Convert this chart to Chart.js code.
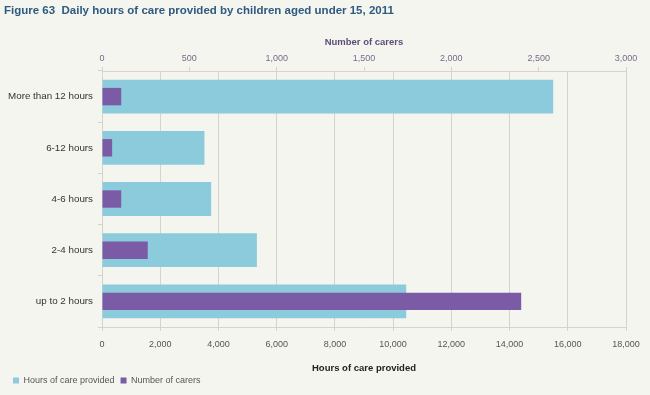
<!DOCTYPE html>
<html>
<head>
<meta charset="utf-8">
<script src="https://cdn.jsdelivr.net/npm/chart.js@4"></script>
<style>
  html, body { margin: 0; padding: 0; background: #f5f5f0; }
  #wrap { position: relative; width: 650px; height: 395px; }
  #titulo {
    position: absolute; left: 4px; top: 4px;
    font: bold 11.5px "Liberation Sans", Arial, sans-serif;
    color: #2d5a80;
  }
  canvas { position: absolute; left: 0; top: 0; }
</style>
</head>
<body>
<div id="wrap">
  <canvas id="grafica" width="650" height="395"></canvas>
  <div id="titulo">Figure 63&nbsp; Daily hours of care provided by children aged under 15, 2011</div>
</div>
<script>
// --- Datos ---
const categorias = ['More than 12 hours', '6-12 hours', '4-6 hours', '2-4 hours', 'up to 2 hours'];
const horasCuidado = [15500, 3520, 3750, 5320, 10450];
const numCuidadores = [110, 58, 110, 262, 2400];
const ticksHoras = [0, 2000, 4000, 6000, 8000, 10000, 12000, 14000, 16000, 18000];
const ticksCuidadores = [0, 500, 1000, 1500, 2000, 2500, 3000];

const fuente = '"Liberation Sans", Arial, sans-serif';
const gris = '#d4d4cc';

new Chart(document.getElementById('grafica'), {
  type: 'bar',
  data: {
    labels: categorias,
    datasets: [
      {
        label: 'Hours of care provided',
        data: horasCuidado,
        xAxisID: 'x',
        backgroundColor: '#8ccbdc',
        barPercentage: 0.66,
        categoryPercentage: 1,
        grouped: false,
        order: 1
      },
      {
        label: 'Number of carers',
        data: numCuidadores,
        xAxisID: 'x2',
        backgroundColor: '#7b5aa6',
        barPercentage: 0.34,
        categoryPercentage: 1,
        grouped: false,
        order: 0
      }
    ]
  },
  options: {
    indexAxis: 'y',
    responsive: false,
    animation: false,
    layout: { padding: { top: 28, left: 7, right: 24, bottom: 0 } },
    scales: {
      x: {
        position: 'bottom',
        min: 0, max: 18000,
        afterBuildTicks: (s) => { s.ticks = ticksHoras.map(v => ({ value: v })); },
        afterFit: (s) => { s.height = 43; },
        grid: { color: gris, tickLength: 4 },
        border: { color: gris },
        ticks: {
          padding: 8,
          color: '#555',
          font: { family: fuente, size: 9 },
          callback: (v) => v.toLocaleString('en-US')
        },
        title: {
          display: true,
          text: 'Hours of care provided',
          color: '#222',
          font: { family: fuente, size: 9.5, weight: 'bold' },
          padding: { top: 0, bottom: -4 }
        }
      },
      x2: {
        position: 'top',
        min: 0, max: 3000,
        afterBuildTicks: (s) => { s.ticks = ticksCuidadores.map(v => ({ value: v })); },
        afterFit: (s) => { s.height = 43; },
        grid: { drawOnChartArea: false, color: gris, tickLength: 4 },
        border: { color: gris },
        ticks: {
          padding: 3,
          color: '#7a6a8a',
          font: { family: fuente, size: 9 },
          callback: (v) => v.toLocaleString('en-US')
        },
        title: {
          display: true,
          text: 'Number of carers',
          color: '#5e4c78',
          font: { family: fuente, size: 9.5, weight: 'bold' },
          padding: { top: 9, bottom: 0 }
        }
      },
      y: {
        afterFit: (s) => { s.width = 95; },
        grid: { drawOnChartArea: false, color: gris, tickLength: 4 },
        border: { color: gris },
        ticks: {
          padding: 5,
          color: '#333',
          font: { family: fuente, size: 9.8 }
        }
      }
    },
    plugins: {
      legend: {
        position: 'bottom',
        align: 'start',
        labels: {
          boxWidth: 6,
          boxHeight: 6,
          padding: 6,
          color: '#555',
          font: { family: fuente, size: 9 },
          sort: (a, b) => a.datasetIndex - b.datasetIndex
        }
      },
      tooltip: { enabled: false }
    }
  }
});
</script>
</body>
</html>
